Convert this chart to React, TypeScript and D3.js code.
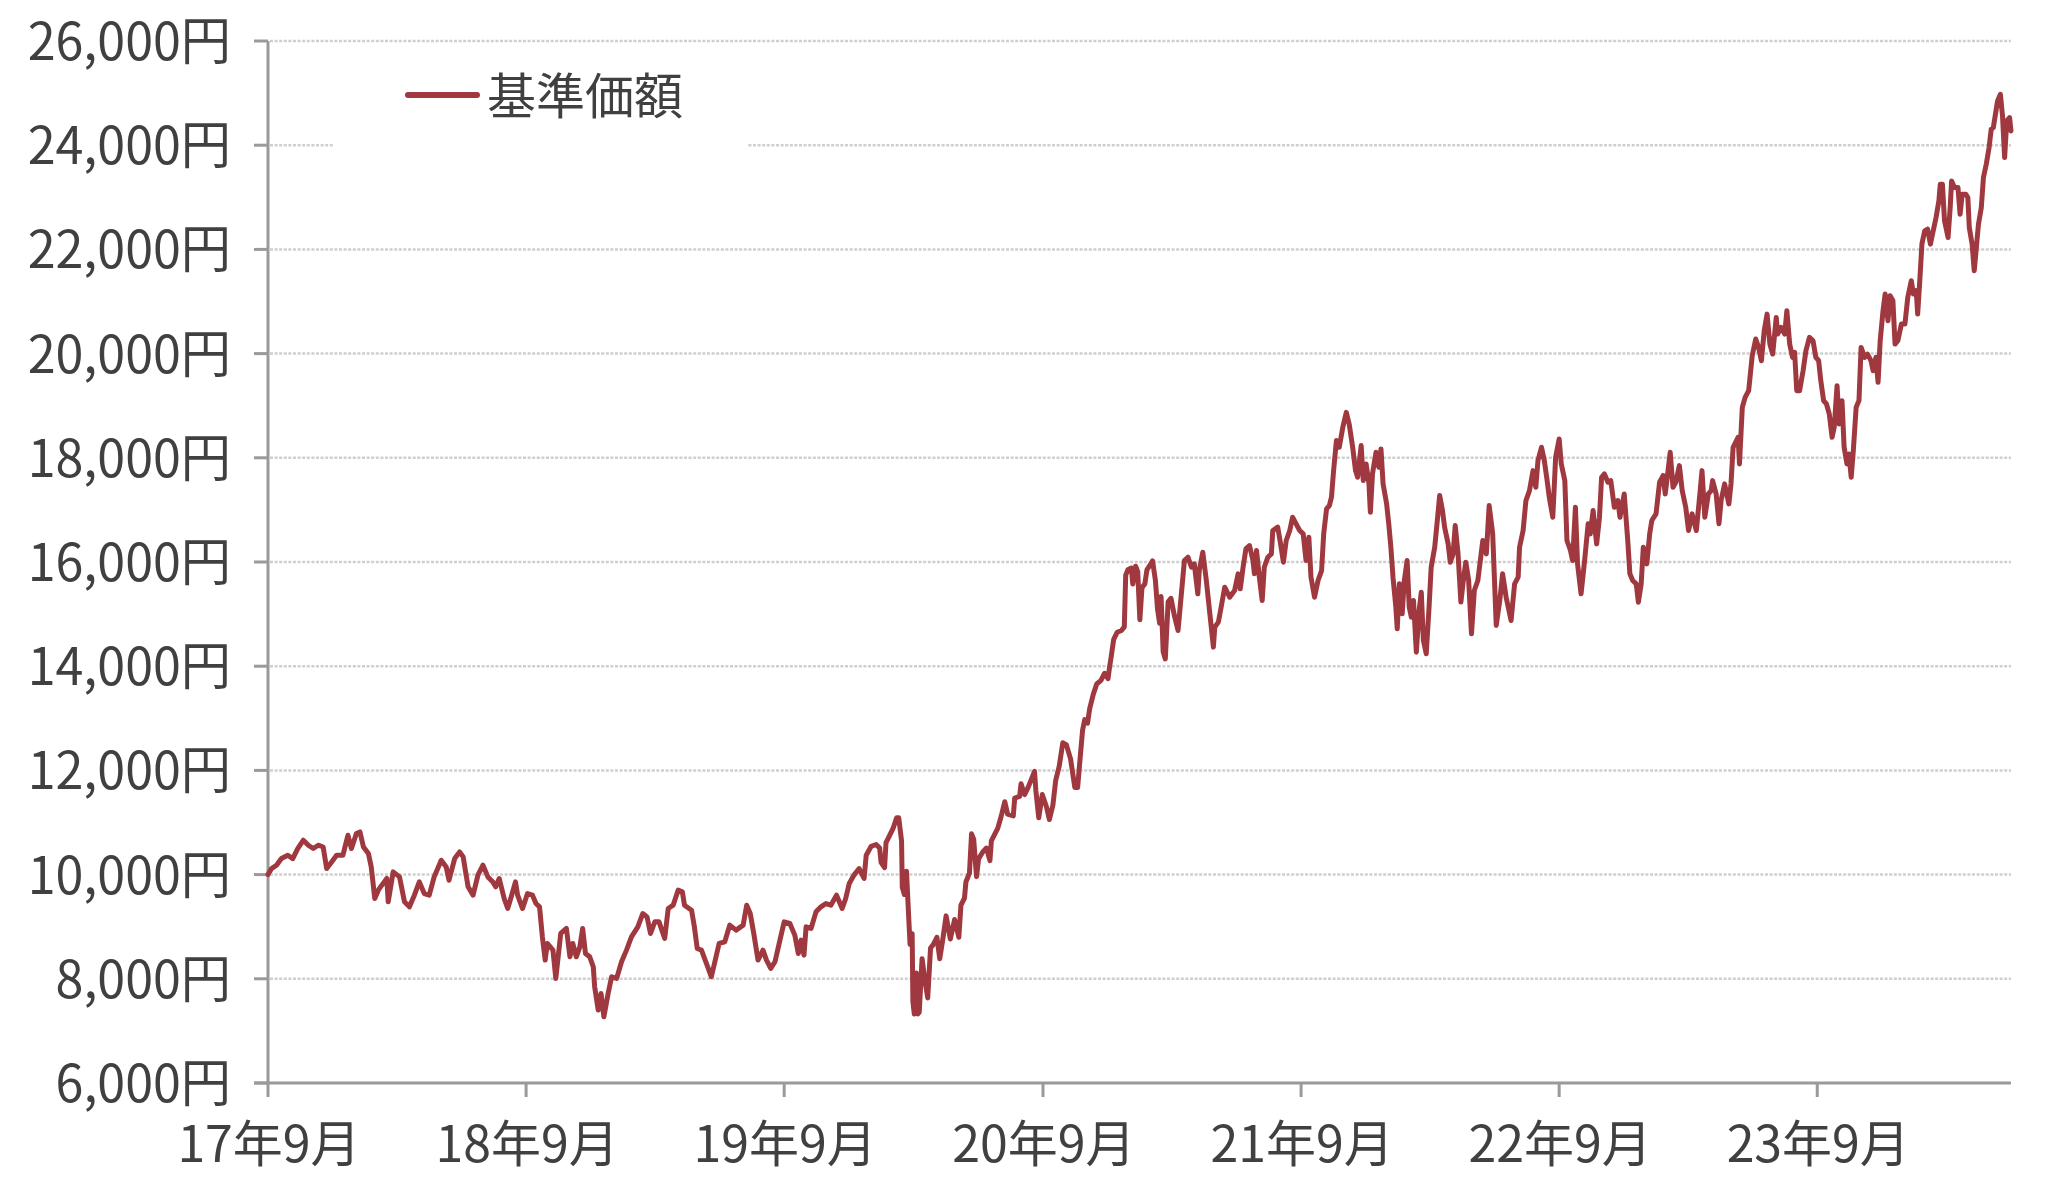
import React, { useEffect } from "react";
import * as d3 from "d3";

const seriesName = "基準価額";

const yTickValues = [6000, 8000, 10000, 12000, 14000, 16000, 18000, 20000, 22000, 24000, 26000];

const xTickDates = ["2017-09-01", "2018-09-01", "2019-09-01", "2020-09-01", "2021-09-01", "2022-09-01", "2023-09-01"];
const xTickLabels = ["17年9月", "18年9月", "19年9月", "20年9月", "21年9月", "22年9月", "23年9月"];

const dates = [
  "2017-09-01","2017-09-06","2017-09-13","2017-09-20","2017-09-29","2017-10-06","2017-10-13","2017-10-21","2017-10-28","2017-11-04",
  "2017-11-11","2017-11-18","2017-11-23","2017-11-30","2017-12-07","2017-12-16","2017-12-23","2017-12-28","2018-01-04","2018-01-09",
  "2018-01-14","2018-01-21","2018-01-25","2018-01-30","2018-02-04","2018-02-09","2018-02-16","2018-02-18","2018-02-25","2018-03-06",
  "2018-03-13","2018-03-20","2018-03-27","2018-04-03","2018-04-10","2018-04-17","2018-04-24","2018-05-04","2018-05-11","2018-05-15",
  "2018-05-23","2018-05-30","2018-06-04","2018-06-11","2018-06-18","2018-06-25","2018-07-02","2018-07-09","2018-07-16","2018-07-20",
  "2018-07-25","2018-08-01","2018-08-06","2018-08-11","2018-08-17","2018-08-20","2018-08-27","2018-09-03","2018-09-10","2018-09-15",
  "2018-09-20","2018-09-24","2018-09-28","2018-10-01","2018-10-09","2018-10-13","2018-10-20",
  "2018-10-28","2018-11-02","2018-11-06","2018-11-11","2018-11-16","2018-11-20","2018-11-24","2018-11-30","2018-12-05","2018-12-07",
  "2018-12-12","2018-12-16","2018-12-20","2018-12-26","2018-12-31","2019-01-07","2019-01-14","2019-01-21","2019-01-28","2019-02-06",
  "2019-02-13","2019-02-19","2019-02-24","2019-03-02","2019-03-08","2019-03-16","2019-03-21","2019-03-28","2019-04-04","2019-04-10",
  "2019-04-13","2019-04-23","2019-04-27","2019-05-01","2019-05-07","2019-05-14","2019-05-21","2019-05-26","2019-06-01","2019-06-09",
  "2019-06-16","2019-06-25","2019-07-05","2019-07-10","2019-07-15","2019-07-20","2019-07-26","2019-08-02","2019-08-07","2019-08-13",
  "2019-08-19","2019-08-26","2019-09-01","2019-09-09","2019-09-16","2019-09-21","2019-09-25","2019-09-29","2019-10-02","2019-10-09",
  "2019-10-16","2019-10-23","2019-10-30","2019-11-06","2019-11-14","2019-11-22","2019-11-27","2019-12-02","2019-12-09","2019-12-16",
  "2019-12-23",
  "2019-12-26","2020-01-02","2020-01-09","2020-01-14","2020-01-16","2020-01-21","2020-01-23","2020-01-28","2020-02-02","2020-02-07",
  "2020-02-10","2020-02-14","2020-02-15","2020-02-18","2020-02-21","2020-02-24","2020-02-26","2020-02-29","2020-03-01","2020-03-03",
  "2020-03-06","2020-03-08","2020-03-10","2020-03-14","2020-03-18","2020-03-22","2020-03-26","2020-03-30","2020-04-04","2020-04-08",
  "2020-04-12","2020-04-17","2020-04-23","2020-04-29","2020-05-05","2020-05-08","2020-05-13","2020-05-15","2020-05-20","2020-05-23",
  "2020-05-26","2020-05-30","2020-06-02","2020-06-08","2020-06-13","2020-06-18","2020-06-20","2020-06-25","2020-06-29","2020-07-04",
  "2020-07-09","2020-07-13","2020-07-21","2020-07-23","2020-07-30","2020-08-01","2020-08-06","2020-08-11","2020-08-15","2020-08-20",
  "2020-08-22","2020-08-26","2020-08-31","2020-09-06","2020-09-10","2020-09-15","2020-09-19","2020-09-24","2020-09-29","2020-10-04",
  "2020-10-10","2020-10-16","2020-10-20","2020-10-23","2020-10-27","2020-10-30","2020-11-03","2020-11-06","2020-11-11","2020-11-16",
  "2020-11-22","2020-11-27","2020-12-02","2020-12-04","2020-12-06","2020-12-10","2020-12-15","2020-12-21","2020-12-25","2020-12-27",
  "2020-12-30","2021-01-04","2021-01-06","2021-01-10","2021-01-13","2021-01-16","2021-01-19","2021-01-23","2021-01-26","2021-01-31",
  "2021-02-03","2021-02-07","2021-02-10","2021-02-13","2021-02-15","2021-02-18","2021-02-21","2021-02-25","2021-03-01","2021-03-06",
  "2021-03-11",
  "2021-03-20","2021-03-25","2021-03-30","2021-04-03","2021-04-08","2021-04-10","2021-04-15","2021-04-20","2021-04-25","2021-04-30",
  "2021-05-02","2021-05-07","2021-05-11","2021-05-16","2021-05-23","2021-05-30","2021-06-04","2021-06-07","2021-06-11","2021-06-15",
  "2021-06-20","2021-06-25","2021-06-27","2021-06-30","2021-07-04","2021-07-08","2021-07-11","2021-07-16","2021-07-21","2021-07-23",
  "2021-07-30","2021-08-03","2021-08-07","2021-08-11","2021-08-16","2021-08-20","2021-08-25","2021-08-30","2021-09-04","2021-09-08",
  "2021-09-12","2021-09-15","2021-09-20","2021-09-25","2021-09-30","2021-10-03","2021-10-07","2021-10-11","2021-10-14","2021-10-17",
  "2021-10-21","2021-10-25","2021-10-30","2021-11-04","2021-11-08","2021-11-13","2021-11-17","2021-11-20","2021-11-25","2021-11-28",
  "2021-12-02","2021-12-06","2021-12-08","2021-12-11","2021-12-16","2021-12-20","2021-12-23","2021-12-26","2021-12-31","2022-01-03",
  "2022-01-06","2022-01-09","2022-01-13","2022-01-15","2022-01-18","2022-01-22","2022-01-25","2022-01-29","2022-02-01","2022-02-04",
  "2022-02-07","2022-02-11","2022-02-15","2022-02-18","2022-02-21","2022-02-25","2022-03-01","2022-03-04","2022-03-09","2022-03-12",
  "2022-03-16","2022-03-20","2022-03-23","2022-03-28","2022-03-31","2022-04-04","2022-04-07","2022-04-11","2022-04-15","2022-04-19",
  "2022-04-22","2022-04-26","2022-04-30","2022-05-04","2022-05-09",
  "2022-05-16","2022-05-21","2022-05-25","2022-05-30","2022-06-04","2022-06-09","2022-06-13","2022-06-18","2022-06-25","2022-06-30",
  "2022-07-05","2022-07-07","2022-07-12","2022-07-16","2022-07-21","2022-07-26","2022-07-30","2022-08-02","2022-08-07","2022-08-11",
  "2022-08-15","2022-08-18","2022-08-23","2022-08-27","2022-09-01","2022-09-04","2022-09-09","2022-09-12","2022-09-17","2022-09-20",
  "2022-09-24","2022-09-27","2022-10-02","2022-10-07","2022-10-12","2022-10-15","2022-10-19","2022-10-24","2022-10-28","2022-10-31",
  "2022-11-04","2022-11-09","2022-11-13","2022-11-18","2022-11-23","2022-11-26","2022-12-02","2022-12-07","2022-12-10","2022-12-14",
  "2022-12-19","2022-12-22","2022-12-26","2022-12-29","2023-01-03","2023-01-07","2023-01-10","2023-01-16","2023-01-21","2023-01-26",
  "2023-01-29","2023-02-02","2023-02-05","2023-02-09","2023-02-13","2023-02-18","2023-02-22","2023-02-27","2023-03-03","2023-03-08",
  "2023-03-14","2023-03-19","2023-03-22","2023-03-26","2023-03-31","2023-04-04","2023-04-06","2023-04-11","2023-04-15","2023-04-18",
  "2023-04-23","2023-04-29","2023-05-02","2023-05-05","2023-05-12","2023-05-14","2023-05-18","2023-05-22","2023-05-27","2023-06-01",
  "2023-06-06","2023-06-10","2023-06-14","2023-06-18","2023-06-22","2023-06-26","2023-06-30","2023-07-05",
  "2023-07-07","2023-07-12","2023-07-17","2023-07-20","2023-07-24","2023-07-28","2023-07-31","2023-08-03","2023-08-07","2023-08-12",
  "2023-08-16","2023-08-21","2023-08-26","2023-08-30","2023-09-03","2023-09-06","2023-09-10","2023-09-14","2023-09-18","2023-09-22",
  "2023-09-25","2023-09-29","2023-10-02","2023-10-06","2023-10-09","2023-10-13","2023-10-16","2023-10-19","2023-10-22","2023-10-26",
  "2023-10-30","2023-11-02","2023-11-07","2023-11-11","2023-11-16","2023-11-19","2023-11-23","2023-11-26","2023-11-29","2023-12-03",
  "2023-12-06","2023-12-10","2023-12-13","2023-12-17","2023-12-20","2023-12-24","2023-12-29","2024-01-03","2024-01-07","2024-01-12",
  "2024-01-15","2024-01-19","2024-01-21","2024-01-24","2024-01-27","2024-01-31","2024-02-04","2024-02-08","2024-02-12","2024-02-16",
  "2024-02-20","2024-02-22","2024-02-25","2024-02-28","2024-03-04","2024-03-07","2024-03-09","2024-03-13","2024-03-18","2024-03-21",
  "2024-03-24","2024-03-29","2024-04-01","2024-04-03","2024-04-07","2024-04-10","2024-04-13","2024-04-16","2024-04-20","2024-04-23",
  "2024-04-27","2024-05-01","2024-05-04","2024-05-07","2024-05-10","2024-05-13","2024-05-17","2024-05-20","2024-05-23","2024-05-26",
  "2024-05-30","2024-06-01"
];

const navValues = [
  10000,10116,10180,10308,10372,10308,10500,10660,10564,10500,
  10564,10530,10116,10244,10372,10372,10755,10500,10790,10819,
  10530,10404,10148,9541,9701,9797,9925,9477,10052,9956,
  9477,9381,9605,9860,9637,9605,9956,10276,10148,9892,
  10308,10436,10340,9765,9605,9995,10180,9956,9860,9765,
  9925,9541,9349,9573,9860,9605,9349,9637,9605,9445,
  9381,8806,8359,8678,8550,8007,8870,
  8966,8422,8678,8422,8614,8966,8486,8422,8231,7847,
  7400,7719,7272,7719,8039,8007,8327,8550,8806,8998,
  9253,9189,8870,9093,9093,8774,9349,9413,9701,9669,
  9413,9317,8998,8582,8550,8295,8039,8327,8678,8710,
  9030,8934,9030,9413,9253,8870,8359,8550,8359,8199,
  8327,8742,9093,9061,8838,8486,8742,8454,8998,8966,
  9285,9381,9445,9413,9605,9349,9541,9829,9995,10116,
  9925,
  10372,10543,10578,10509,10235,10132,10612,10749,10886,11091,
  11091,10646,9756,9618,10064,9208,8660,8865,7564,7324,
  8112,7324,7359,8386,7975,7633,8591,8660,8797,8386,
  8728,9208,8763,9139,8797,9413,9550,9858,10029,10783,
  10680,9961,10303,10440,10509,10269,10646,10783,10886,11125,
  11399,11160,11125,11468,11502,11742,11536,11673,11810,11981,
  11605,11091,11536,11297,11057,11331,11810,12084,12529,12495,
  12221,11673,11673,12153,12769,12974,12906,13180,13454,13659,
  13727,13864,13762,13967,14139,14515,14652,14686,14755,15748,
  15850,15885,15577,15919,15816,14892,15508,15577,15850,15953,
  16022,15645,15097,14823,15337,14276,14139,15234,15303,14960,
  14686,
  16028,16092,15900,15964,15389,15836,16188,15645,15006,14366,
  14750,14846,15134,15517,15325,15453,15773,15485,15900,16252,
  16316,16028,15773,16220,15709,15261,15900,16092,16156,16604,
  16668,16348,15996,16412,16604,16859,16732,16604,16540,16028,
  16476,15709,15325,15645,15836,16540,17019,17083,17243,17754,
  18330,18202,18585,18873,18649,18202,17754,17626,18234,17562,
  17882,17498,16955,17690,18106,17818,18170,17498,17115,16732,
  16284,15709,15134,14718,15581,15006,15645,16028,15134,14942,
  15261,14270,15070,15421,14494,14238,15134,15900,16284,16700,
  17275,16987,16668,16348,15996,16156,16700,16156,15230,15709,
  15996,15645,14622,15453,15645,
  16412,16156,17083,16540,14782,15261,15773,15325,14878,15581,
  15709,16284,16604,17179,17371,17754,17435,17946,18202,17946,
  17562,17243,16859,18010,18361,17882,17562,16412,16220,16028,
  17051,15964,15389,16028,16732,16540,16987,16348,16859,17626,
  17690,17531,17562,17051,17179,16859,17307,16412,15773,15645,
  15581,15229,15581,16284,15964,16540,16796,16924,17531,17659,
  17307,17754,18106,17435,17531,17850,17371,17051,16604,16924,
  16604,17307,17754,16859,17307,17371,17562,17307,16732,17179,
  17499,17115,17499,18202,18393,17882,18969,19160,19288,19959,
  20279,20119,19863,20439,20758,20183,19991,20694,
  20375,20503,20375,20822,20183,19928,20023,19288,19288,19672,
  20056,20311,20247,19928,19864,19480,19097,19033,18841,18393,
  18585,19384,18649,19097,18202,17882,18074,17626,18138,18969,
  19097,20119,19928,19991,19864,19672,19928,19448,20247,20822,
  21142,20631,21110,21014,20183,20247,20567,20567,21078,21398,
  21142,21206,20759,21398,22101,22357,22389,22101,22357,22612,
  22932,23252,23252,22548,22229,22804,23315,23188,23188,22676,
  23060,23060,22996,22421,22101,21590,22037,22485,22804,23379,
  23635,23955,24306,24338,24594,24850,24977,24562,23763,24466,
  24530,24274
];

const domainStart = "2017-09-01";
const domainEnd = "2024-06-01";

const FONT = "'Noto Sans CJK JP', 'Noto Sans', sans-serif";

export default function App() {
  useEffect(() => {
    document.body.style.margin = "0";
  }, []);

  const width = 2048;
  const height = 1195;
  const left = 268;
  const right = 2011;
  const top = 41;
  const bottom = 1083;

  const parse = d3.timeParse("%Y-%m-%d");
  const x = d3.scaleTime().domain([parse(domainStart)!, parse(domainEnd)!]).range([left, right]);
  const y = d3.scaleLinear().domain([6000, 26000]).range([bottom, top]);

  const data = dates.map((d, i) => ({ date: parse(d)!, value: navValues[i] }));
  const line = d3
    .line<{ date: Date; value: number }>()
    .x((d) => x(d.date))
    .y((d) => y(d.value));

  const fmt = d3.format(",");
  const textColor = "#404040";
  const axisColor = "#9a9a9a";
  const lineColor = "#a0393f";

  return (
    <svg width={width} height={height} style={{ display: "block", background: "#fff" }}>
      {yTickValues
        .filter((v) => v > 6000)
        .map((v) => (
          <line
            key={"g" + v}
            x1={left + 2}
            x2={right}
            y1={y(v)}
            y2={y(v)}
            stroke="#cfcfcf"
            strokeWidth={2.5}
            strokeDasharray="3,1.6"
          />
        ))}
      <rect x={333} y={56} width={414} height={110} fill="#fff" />
      <line x1={left} x2={left} y1={top} y2={bottom + 1.5} stroke={axisColor} strokeWidth={3} />
      {yTickValues.map((v) => (
        <line key={"yt" + v} x1={left - 14} x2={left} y1={y(v)} y2={y(v)} stroke={axisColor} strokeWidth={3} />
      ))}
      {yTickValues.map((v) => (
        <text
          key={"yl" + v}
          transform={`translate(231,${y(v) + 19}) scale(0.965,1)`}
          textAnchor="end"
          fontFamily={FONT}
          fontSize={52}
          fill={textColor}
        >
          {fmt(v) + "円"}
        </text>
      ))}
      <line x1={left - 14} x2={right} y1={bottom} y2={bottom} stroke={axisColor} strokeWidth={3} />
      {xTickDates.map((d, i) => {
        const xx = x(parse(d)!);
        return (
          <g key={"xt" + d}>
            <line x1={xx} x2={xx} y1={bottom} y2={bottom + 14} stroke={axisColor} strokeWidth={3} />
            <text x={xx + 1} y={1162} textAnchor="middle" fontFamily={FONT} fontSize={50} fill={textColor}>
              {xTickLabels[i]}
            </text>
          </g>
        );
      })}
      <path
        d={line(data) || ""}
        fill="none"
        stroke={lineColor}
        strokeWidth={5}
        strokeLinejoin="round"
        strokeLinecap="round"
      />
      <line x1={408} x2={477} y1={95} y2={95} stroke={lineColor} strokeWidth={6} strokeLinecap="round" />
      <text x={487} y={114} fontFamily={FONT} fontSize={49} fill={textColor}>
        {seriesName}
      </text>
    </svg>
  );
}
